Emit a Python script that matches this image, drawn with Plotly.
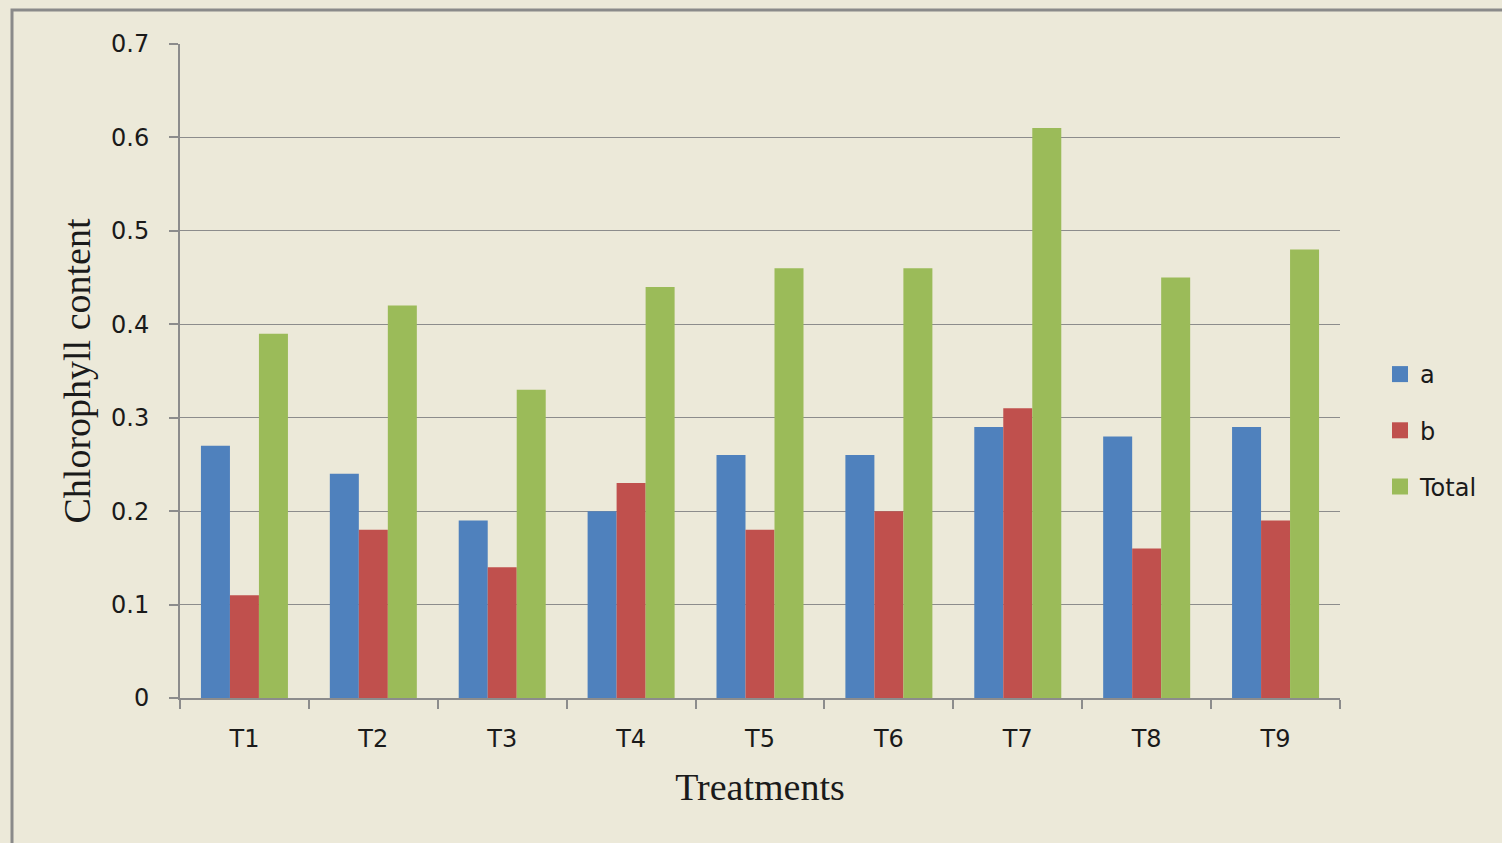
import plotly.graph_objects as go

treatments = ["T1", "T2", "T3", "T4", "T5", "T6", "T7", "T8", "T9"]
chl_a = [0.27, 0.24, 0.19, 0.20, 0.26, 0.26, 0.29, 0.28, 0.29]
chl_b = [0.11, 0.18, 0.14, 0.23, 0.18, 0.20, 0.31, 0.16, 0.19]
chl_total = [0.39, 0.42, 0.33, 0.44, 0.46, 0.46, 0.61, 0.45, 0.48]

series = [("a", chl_a, "#4F81BD"), ("b", chl_b, "#C0504D"), ("Total", chl_total, "#9BBB59")]

bg = "#ECE9D9"
grid = "#8C8C8C"

fig = go.Figure()
for name, vals, col in series:
    fig.add_trace(go.Bar(x=treatments, y=vals, name=name, showlegend=False,
                         marker=dict(color=col, line=dict(width=0))))
# legend keys: square swatches
for name, vals, col in series:
    fig.add_trace(go.Scatter(x=[None], y=[None], mode="markers", name=name, legendgroup=name,
                             marker=dict(symbol="square", size=19, color=col)))

W, H = 1502, 843
L, R, T, B = 180, 162, 44, 145
pw, ph = W - L - R, H - T - B

fig.update_layout(
    width=W, height=H,
    margin=dict(l=L, r=R, t=T, b=B, pad=0),
    paper_bgcolor=bg, plot_bgcolor=bg,
    barmode="group", bargap=0.325, bargroupgap=0,
    font=dict(family="DejaVu Sans", size=24, color="#1a1a1a"),
    showlegend=True,
    legend=dict(x=(1380 - L) / pw, y=(698 - 352) / ph, xanchor="left", yanchor="top",
                bgcolor="rgba(0,0,0,0)", font=dict(size=24), tracegroupgap=22,
                itemwidth=30, itemsizing="trace", traceorder="grouped"),
    xaxis=dict(
        showline=True, linecolor=grid, linewidth=2,
        ticks="outside", ticklen=9, tickcolor=grid, tickwidth=2,
        tickson="boundaries", showgrid=False, ticklabelstandoff=18,
        title=dict(text="Treatments", font=dict(family="Liberation Serif", size=38), standoff=22),
    ),
    yaxis=dict(
        range=[0, 0.7], dtick=0.1, tick0=0,
        showline=True, linecolor=grid, linewidth=2,
        ticks="outside", ticklen=9, tickcolor=grid, tickwidth=2,
        showgrid=True, gridcolor=grid, gridwidth=1,
        zeroline=False, ticklabelstandoff=15,
        title=dict(text="Chlorophyll content", font=dict(family="Liberation Serif", size=38), standoff=9),
    ),
)

# outer frame of the chart area
fig.add_shape(type="rect", xref="paper", yref="paper",
              x0=(12 - L) / pw, x1=(W + 40 - L) / pw,
              y0=(H - T - B - (H + 40 - T)) / ph, y1=(H - B - 10) / ph,
              line=dict(color="#8A8A8A", width=3), fillcolor="rgba(0,0,0,0)", layer="below")

fig.write_html("out.html")
